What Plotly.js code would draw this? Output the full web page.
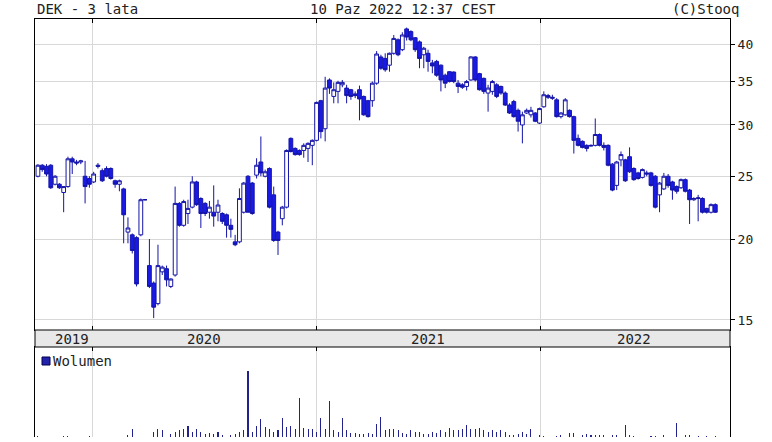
<!DOCTYPE html>
<html><head><meta charset="utf-8">
<script src="https://cdn.plot.ly/plotly-3.0.1.min.js"></script>
<style>html,body{margin:0;padding:0;background:#fff;}#chart{width:772px;height:442px;}</style>
</head><body><div id="chart"></div>
<script>
// ---- data (weekly candles, DEK, 3 years) ----
const START_DATE = '2019-10-04';
const OPEN = [
25.0,26.0,25.9,26.0,24.3,24.3,23.6,24.1,26.6,26.3,
26.3,25.0,24.8,24.5,26.0,25.5,25.7,25.7,24.6,24.3,
23.9,20.5,20.3,20.1,20.3,23.0,18.2,17.1,15.9,17.8,
18.0,16.9,17.6,22.7,21.0,21.9,22.4,24.5,23.1,22.7,
22.0,22.0,22.0,21.9,21.8,21.0,19.8,19.8,22.0,25.0,
24.4,25.1,26.3,25.0,25.7,23.4,20.5,21.5,22.4,28.6,
27.6,27.4,27.4,27.6,27.9,28.4,32.7,29.6,35.2,33.2,
33.8,34.6,34.2,34.0,33.5,34.0,33.2,32.7,32.7,34.8,
38.2,38.0,37.1,38.7,40.6,39.2,42.2,41.8,40.9,40.3,
38.5,38.7,37.4,37.6,37.1,35.8,36.25,36.2,34.8,34.6,
34.4,35.2,38.2,36.0,35.4,33.6,33.8,34.6,34.4,33.6,
32.2,32.6,31.6,30.0,31.3,31.1,31.3,30.2,32.0,33.3,
33.1,32.8,30.9,31.1,31.6,30.9,28.6,28.3,27.9,27.9,
27.9,29.0,27.9,27.9,26.1,24.2,26.5,26.5,26.8,25.7,
25.3,24.9,25.3,25.3,25.0,23.4,23.9,25.0,24.5,24.1,
24.0,24.7,23.8,23.0,23.1,23.1,22.3,22.0,22.6];
const HIGH = [
26.1,26.1,26.1,26.1,25.1,24.4,24.1,26.8,26.8,26.5,
26.5,26.4,25.0,25.4,26.2,25.7,25.9,25.8,24.7,24.7,
24.0,21.6,20.4,20.2,23.1,23.05,20.0,17.2,19.6,18.2,
18.2,17.4,24.1,22.8,23.0,23.0,25.0,24.6,23.2,22.8,
22.9,24.2,23.0,22.0,21.9,21.5,20.3,23.95,24.5,25.1,
24.5,26.65,28.8,25.6,25.8,24.1,20.6,22.5,27.5,28.7,
27.7,27.5,28.1,28.2,28.5,32.6,32.8,35.6,35.4,34.9,
35.1,35.2,34.6,34.1,33.8,34.5,33.3,32.8,35.0,39.0,
38.5,38.7,38.8,41.3,40.8,41.7,42.4,42.0,41.0,40.5,
39.6,39.2,37.8,37.8,37.2,36.0,36.3,36.3,35.2,34.8,
35.2,38.3,38.3,36.1,35.5,34.6,35.2,34.8,34.5,33.8,
32.4,32.8,31.8,31.45,31.8,32.0,31.4,31.9,33.8,33.5,
33.4,33.0,31.4,33.0,31.7,31.0,29.0,28.4,28.0,28.0,
30.7,29.1,28.2,28.0,26.2,26.4,27.3,26.6,27.7,25.8,
25.4,25.7,25.5,25.4,25.1,24.5,25.3,25.2,24.6,24.2,
24.8,24.8,23.9,23.2,23.4,23.2,22.35,22.7,22.7];
const LOW = [
24.9,25.4,25.0,23.9,24.2,23.9,22.0,24.0,25.2,26.0,
26.1,22.7,24.0,24.4,25.7,24.5,24.9,24.7,24.0,23.7,
19.7,19.7,19.0,16.9,20.2,22.95,16.8,15.1,15.8,17.6,
16.9,16.8,17.5,20.9,20.9,21.1,22.3,22.5,20.8,21.7,
21.5,20.9,21.3,21.1,20.1,20.1,19.5,19.7,21.9,22.0,
21.8,24.8,25.0,24.9,22.3,19.8,18.9,21.0,22.3,27.2,
26.9,26.9,26.7,26.3,26.0,28.3,28.6,28.3,33.5,32.4,
32.4,34.3,32.4,32.8,33.0,30.5,31.0,30.8,32.0,34.6,
36.5,36.25,36.25,38.5,38.3,39.0,40.5,40.4,38.9,36.7,
36.7,36.25,36.05,35.6,33.8,34.2,34.9,34.8,33.6,34.1,
33.9,35.1,35.0,33.9,33.5,31.45,33.4,33.0,33.4,32.1,
31.2,30.8,29.3,28.1,31.2,30.8,30.3,30.1,31.9,32.9,
32.8,30.8,30.7,31.0,30.8,27.1,27.8,27.6,27.3,27.8,
27.8,27.8,27.4,25.9,23.7,23.8,25.9,24.5,25.3,24.6,
24.7,24.8,25.0,24.1,22.3,22.0,23.8,24.0,23.0,23.5,
23.9,23.6,21.1,22.9,21.3,21.9,21.9,21.9,21.95];
const CLOSE = [
26.0,25.6,25.2,24.0,25.0,24.0,24.1,26.6,26.3,26.2,
26.4,24.1,24.3,25.2,25.9,24.6,25.0,24.8,24.3,24.6,
21.8,20.8,19.2,17.05,23.0,23.0,16.9,15.7,18.2,18.1,
17.3,17.35,22.7,21.0,22.85,22.3,24.5,22.6,21.9,21.9,
22.4,21.7,22.57,21.3,21.0,20.7,19.6,23.1,24.4,22.0,
21.9,26.0,25.3,25.4,22.4,19.9,19.9,22.4,27.4,27.3,
27.0,27.0,27.9,28.1,28.4,32.5,29.3,34.2,34.2,34.0,
34.9,34.9,33.3,33.2,33.3,32.9,31.1,30.9,34.8,38.6,
36.7,36.5,38.7,40.8,38.5,41.3,41.0,40.6,39.2,38.0,
39.4,37.6,37.0,35.8,35.2,34.8,35.0,35.0,34.4,34.3,
35.0,38.2,35.2,34.0,33.8,34.2,35.0,33.2,33.6,32.2,
31.3,30.9,30.4,31.1,31.6,31.6,30.4,31.8,33.4,33.1,
33.0,30.9,31.3,32.8,30.9,28.4,27.9,27.7,27.6,27.85,
29.0,27.9,27.7,26.0,23.8,26.3,27.0,24.6,25.4,24.7,
24.8,25.6,25.2,24.2,22.4,24.4,25.0,24.2,23.8,23.7,
24.7,23.7,23.0,23.1,23.15,22.0,22.0,22.6,22.0];
const VOLUME = [
3,0,0,0,0,0,3,4,0,0,
0,0,3,0,0,0,0,0,0,0,
0,5,25,0,0,0,0,15,25,20,
0,10,15,20,25,33,15,25,15,10,
13,10,15,5,0,5,10,15,20,193,
15,33,53,30,25,15,20,57,30,33,
25,115,27,25,23,15,57,23,105,20,
15,57,20,13,13,10,10,13,10,37,
60,20,25,25,20,12,10,20,15,15,
10,10,15,13,20,15,27,20,20,25,
35,25,25,27,20,15,20,15,20,15,
5,5,10,15,10,25,0,5,3,0,
0,3,5,0,12,12,0,5,10,5,
5,5,5,0,5,7,0,35,5,3,
0,0,0,3,3,0,5,0,0,40,
0,7,7,0,3,0,3,0,3];
const PRICE_TICKS = [15, 20, 25, 30, 35, 40];
const YEAR_GRID = ['2020-01-01', '2021-01-01', '2022-01-01'];
const YEAR_LABELS = ['2019', '2020', '2021', '2022'];
const YEAR_LABEL_DATES = ['2019-11-29', '2020-07-01', '2021-07-02', '2022-06-04'];
const TITLE_LEFT = 'DEK - 3 lata';
const TITLE_CENTER = '10 Paz 2022 12:37 CEST';
const TITLE_RIGHT = '(C)Stooq';
const VOLUME_LABEL = 'Wolumen';

function weeklyDates(start, n) {
  const d0 = new Date(start + 'T00:00:00Z').getTime();
  const out = [];
  for (let i = 0; i < n; i++) out.push(new Date(d0 + i * 7 * 86400000).toISOString().slice(0, 10));
  return out;
}
const DATES = weeklyDates(START_DATE, CLOSE.length);

// ---- geometry helpers ----
const W = 772, H = 442, ML = 35, MR = 42, MT = 19, MB = 5;
const PH = H - MT - MB, PW = W - ML - MR;
const py = p => (H - MB - p) / PH;
const px = p => (p - ML) / PW;

const FONT = 'DejaVu Sans Mono';
const LINE_BLUE = '#1414a8';
const FILL_BLUE = '#1a1ae6';
const GRID = '#d8d8d8';

const candles = {
  type: 'candlestick', x: DATES, open: OPEN, high: HIGH, low: LOW, close: CLOSE,
  xaxis: 'x', yaxis: 'y',
  increasing: {line: {color: LINE_BLUE, width: 1}, fillcolor: '#ffffff'},
  decreasing: {line: {color: LINE_BLUE, width: 1}, fillcolor: FILL_BLUE},
  whiskerwidth: 0, hoverinfo: 'skip', showlegend: false
};
const vol = {
  type: 'bar', x: DATES, y: VOLUME, xaxis: 'x2', yaxis: 'y2',
  width: 1.7 * 86400000,
  marker: {color: '#22228c', line: {width: 0}},
  hoverinfo: 'skip', showlegend: false
};

const layout = {
  width: W, height: H,
  margin: {l: ML, r: MR, t: MT, b: MB, pad: 0},
  paper_bgcolor: '#ffffff', plot_bgcolor: '#ffffff',
  showlegend: false,
  boxgap: 0.12, boxgroupgap: 0,
  bargap: 0,
  xaxis: {
    type: 'date', range: ['2019-09-29 05:00', '2022-11-07'], domain: [0, 1], anchor: 'y',
    rangeslider: {visible: false},
    showgrid: true, gridcolor: GRID, gridwidth: 1,
    tickmode: 'array', tickvals: YEAR_GRID, showticklabels: false,
    ticks: 'inside', ticklen: 4, tickcolor: '#000',
    showline: true, linecolor: '#000', linewidth: 1, mirror: 'allticks',
    zeroline: false, fixedrange: true
  },
  yaxis: {
    type: 'log', range: [Math.log10(14.476), Math.log10(43.716)],
    domain: [py(330), 1], anchor: 'x', side: 'right',
    tickmode: 'array', tickvals: PRICE_TICKS, ticktext: PRICE_TICKS.map(String),
    ticks: 'outside', ticklen: 4, tickcolor: '#000',
    tickfont: {family: FONT, size: 13, color: '#222'},
    showgrid: true, gridcolor: GRID, gridwidth: 1,
    showline: true, linecolor: '#000', linewidth: 1, mirror: true,
    zeroline: false, fixedrange: true
  },
  xaxis2: {
    type: 'date', range: ['2019-09-29 05:00', '2022-11-07'], domain: [0, 1], anchor: 'y2',
    side: 'top',
    showgrid: true, gridcolor: GRID, gridwidth: 1,
    tickmode: 'array', tickvals: YEAR_GRID, showticklabels: false,
    ticks: 'inside', ticklen: 4, tickcolor: '#000',
    showline: true, linecolor: '#000', linewidth: 1, mirror: false,
    zeroline: false, fixedrange: true
  },
  yaxis2: {
    domain: [0, py(347)], anchor: 'x2', range: [0, 265], side: 'right',
    showticklabels: false, ticks: '', showgrid: false, zeroline: false,
    showline: true, linecolor: '#000', linewidth: 1, mirror: true, fixedrange: true
  },
  shapes: [
    {type: 'rect', xref: 'paper', yref: 'paper', x0: 0, x1: 1, y0: py(347), y1: py(330),
     fillcolor: '#e8e8e8', line: {color: '#000', width: 1}, layer: 'above'},
    {type: 'rect', xref: 'paper', yref: 'paper', x0: px(42), x1: px(50), y0: py(365), y1: py(357),
     fillcolor: '#2222aa', line: {color: '#000050', width: 1}}
  ],
  annotations: [
    {text: TITLE_LEFT, xref: 'paper', yref: 'paper', x: px(35), y: py(9), xanchor: 'left', yanchor: 'middle',
     showarrow: false, font: {family: FONT, size: 14, color: '#222'}},
    {text: TITLE_CENTER, xref: 'paper', yref: 'paper', x: px(403), y: py(9), xanchor: 'center', yanchor: 'middle',
     showarrow: false, font: {family: FONT, size: 14, color: '#222'}},
    {text: TITLE_RIGHT, xref: 'paper', yref: 'paper', x: px(741), y: py(9), xanchor: 'right', yanchor: 'middle',
     showarrow: false, font: {family: FONT, size: 14, color: '#222'}},
    {text: VOLUME_LABEL, xref: 'paper', yref: 'paper', x: px(51), y: py(361), xanchor: 'left', yanchor: 'middle',
     showarrow: false, font: {family: FONT, size: 14, color: '#222'}}
  ].concat(YEAR_LABELS.map((t, i) => ({
    text: t, xref: 'x', yref: 'paper', x: YEAR_LABEL_DATES[i], y: py(338.5),
    xanchor: 'center', yanchor: 'middle', showarrow: false,
    font: {family: FONT, size: 14, color: '#222'}
  })))
};

Plotly.newPlot('chart', [candles, vol], layout, {staticPlot: true, displayModeBar: false});
</script>
</body></html>
